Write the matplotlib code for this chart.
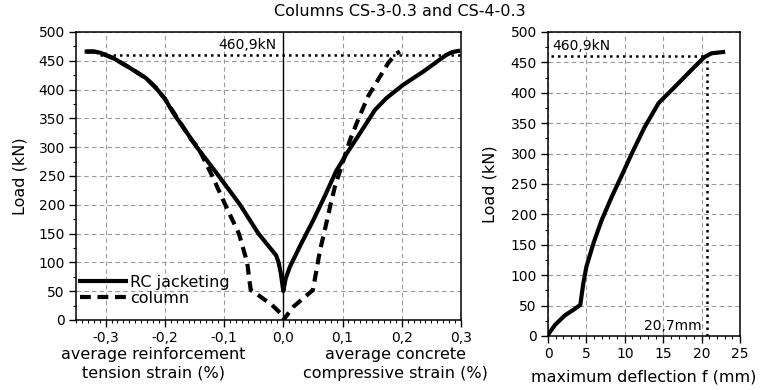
import matplotlib
matplotlib.use("Agg")
import matplotlib.pyplot as plt
from matplotlib.ticker import MultipleLocator

# strain curves (%), load (kN)
jacket_strain = [-0.332, -0.32, -0.309, -0.286, -0.258, -0.232, -0.215, -0.2, -0.185, -0.168, -0.146,
                 -0.109, -0.073, -0.042, -0.012, -0.008, -0.004, 0.0,
                 0.004, 0.011, 0.029, 0.051, 0.07, 0.089, 0.107, 0.135, 0.155, 0.174,
                 0.202, 0.236, 0.275, 0.285, 0.295]
jacket_load = [466, 466, 464, 454, 437, 420, 403, 384, 358, 333, 300,
               250, 200, 150, 112, 100, 80, 50,
               72, 92, 130, 174, 215, 258, 289, 333, 365, 385,
               408, 431, 460, 465, 467]

column_strain = [-0.332, -0.32, -0.309, -0.286, -0.258, -0.232, -0.215, -0.2, -0.168, -0.154, -0.144,
                 -0.12, -0.098, -0.075, -0.061, -0.058, -0.055, -0.042, -0.019, -0.005, 0.0,
                 0.017, 0.05, 0.055, 0.062, 0.07, 0.079, 0.087, 0.098, 0.1125, 0.126,
                 0.143, 0.16, 0.177, 0.19, 0.197]
column_load = [466, 466, 464, 454, 437, 420, 403, 384, 333, 311, 300,
               250, 200, 150, 100, 75, 52, 43, 26, 12, 0,
               23, 52, 81, 121, 156, 197, 231, 266, 312, 347,
               388, 417, 446, 462, 466]

# deflection curve
deflection = [0, 0.04, 0.9, 2.2, 3.3, 4.2, 4.6, 5.0, 5.9, 7.0, 8.3, 9.6, 10.9, 12.6,
              14.4, 17.0, 19.1, 20.4, 21.3, 22.8]
defl_load = [0, 3, 18, 34, 43, 51, 87, 114, 152, 191, 229, 264, 300, 344,
             383, 416, 443, 459, 465, 467]

peak_load = 460.9
peak_defl = 20.7

strain_ticks = [-0.3, -0.2, -0.1, 0.0, 0.1, 0.2, 0.3]
strain_labels = ["-0,3", "-0,2", "-0,1", "0,0", "0,1", "0,2", "0,3"]
load_ticks = list(range(0, 501, 50))
defl_ticks = [0, 5, 10, 15, 20, 25]

TICK_FS = 10
LABEL_FS = 11.5
GRID = dict(color="#999999", linestyle=(0, (4, 3)), linewidth=0.8)
DOTS = dict(color="black", linestyle=(0, (1, 1.6)), linewidth=1.8)


def style_axes(ax):
    ax.tick_params(axis="both", which="major", direction="out", length=5, width=1,
                   labelsize=TICK_FS, top=False, right=False, pad=3)
    ax.tick_params(axis="both", which="minor", direction="out", length=2.5, width=0.8,
                   top=False, right=False)
    for sp in ax.spines.values():
        sp.set_linewidth(1.1)
    ax.grid(True, which="major", **GRID)
    ax.set_axisbelow(True)


fig = plt.figure(figsize=(7.71, 3.9), dpi=100)

# left: strains
ax1 = fig.add_axes([0.0986, 0.1795, 0.4993, 0.7385])
ax1.plot(jacket_strain, jacket_load, color="black", lw=3, label="RC jacketing",
         solid_joinstyle="round")
ax1.plot(column_strain, column_load, color="black", lw=3, linestyle=(0, (2.6, 1.6)),
         label="column")
ax1.axvline(0, color="black", lw=1)
ax1.plot([-0.31, 0.3], [peak_load, peak_load], **DOTS)
ax1.text(-0.012, peak_load + 5, "460,9kN", ha="right", va="bottom", fontsize=TICK_FS)
ax1.set_xlim(-0.35, 0.3)
ax1.set_ylim(0, 500)
ax1.set_xticks(strain_ticks)
ax1.set_xticklabels(strain_labels)
ax1.set_yticks(load_ticks)
ax1.xaxis.set_minor_locator(MultipleLocator(0.01))
ax1.yaxis.set_minor_locator(MultipleLocator(25))
style_axes(ax1)
ax1.legend(loc="lower left", bbox_to_anchor=(0.01, 0.05), frameon=False,
           fontsize=LABEL_FS, handlelength=2.9, handletextpad=0.25,
           labelspacing=0.05, borderpad=0, borderaxespad=0)
ax1.text(0.2, -0.095, "average reinforcement\ntension strain (%)", transform=ax1.transAxes,
         ha="center", va="top", fontsize=LABEL_FS, linespacing=1.3, multialignment="center")
ax1.text(0.829, -0.095, "average concrete\ncompressive strain (%)", transform=ax1.transAxes,
         ha="center", va="top", fontsize=LABEL_FS, linespacing=1.3, multialignment="center")

# right: deflection
ax2 = fig.add_axes([0.7108, 0.1385, 0.249, 0.7795])
ax2.plot(deflection, defl_load, color="black", lw=3, solid_joinstyle="round")
ax2.plot([0.4, peak_defl], [peak_load, peak_load], **DOTS)
ax2.plot([peak_defl, peak_defl], [0, peak_load], **DOTS)
ax2.text(0.6, peak_load + 5, "460,9kN", ha="left", va="bottom", fontsize=TICK_FS)
ax2.text(20.0, 5, "20,7mm", ha="right", va="bottom", fontsize=TICK_FS)
ax2.set_xlim(0, 25)
ax2.set_ylim(0, 500)
ax2.set_xticks(defl_ticks)
ax2.set_yticks(load_ticks)
ax2.xaxis.set_minor_locator(MultipleLocator(1))
ax2.yaxis.set_minor_locator(MultipleLocator(25))
style_axes(ax2)
ax2.set_xlabel("maximum deflection f (mm)", fontsize=LABEL_FS, labelpad=6)

fig.text(20 / 771, 1 - 176 / 390, "Load (kN)", rotation=90, ha="center", va="center",
         fontsize=LABEL_FS)
fig.text(490 / 771, 1 - 184 / 390, "Load (kN)", rotation=90, ha="center", va="center",
         fontsize=LABEL_FS)
fig.text(400 / 771, 1 - 12 / 390, "Columns CS-3-0.3 and CS-4-0.3", ha="center", va="center",
         fontsize=LABEL_FS)

fig.savefig("out.png", dpi=100)
